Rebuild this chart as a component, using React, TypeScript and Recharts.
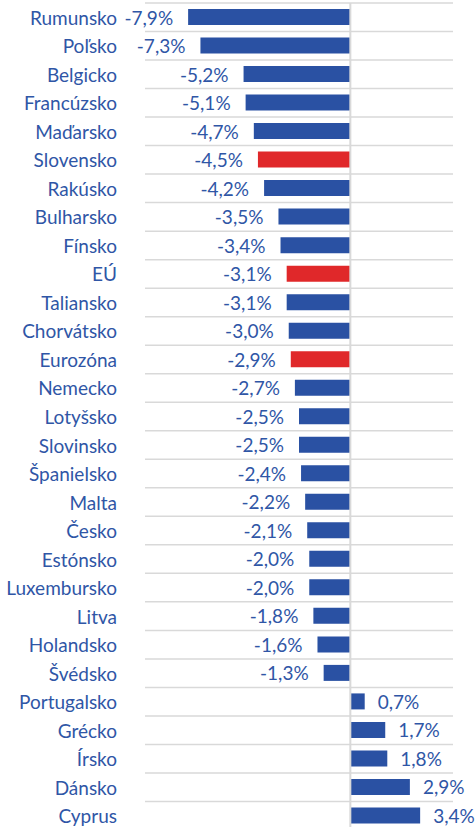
import { BarChart, Bar, XAxis, YAxis, CartesianGrid, ReferenceLine, Cell, LabelList } from 'recharts'

const countries = [
  'Rumunsko', 'Poľsko', 'Belgicko', 'Francúzsko', 'Maďarsko', 'Slovensko', 'Rakúsko',
  'Bulharsko', 'Fínsko', 'EÚ', 'Taliansko', 'Chorvátsko', 'Eurozóna', 'Nemecko',
  'Lotyšsko', 'Slovinsko', 'Španielsko', 'Malta', 'Česko', 'Estónsko', 'Luxembursko',
  'Litva', 'Holandsko', 'Švédsko', 'Portugalsko', 'Grécko', 'Írsko', 'Dánsko', 'Cyprus',
]

const deficits = [
  -7.9, -7.3, -5.2, -5.1, -4.7, -4.5, -4.2,
  -3.5, -3.4, -3.1, -3.1, -3.0, -2.9, -2.7,
  -2.5, -2.5, -2.4, -2.2, -2.1, -2.0, -2.0,
  -1.8, -1.6, -1.3, 0.7, 1.7, 1.8, 2.9, 3.4,
]

const highlighted = ['Slovensko', 'EÚ', 'Eurozóna']

const BLUE = '#2A51A3'
const RED = '#E0282A'
const TEXT = '#2F56A6'
const GRID = '#D9D9D9'
const FONT = 'Lato, "Open Sans", sans-serif'

const W = 475
const H = 830
const MARGIN = { top: 3, right: 22, bottom: 0, left: 0 }

const data = countries.map((name, i) => ({ name, value: deficits[i] }))

const fmt = (v: number) => v.toFixed(1).replace('.', ',') + '%'

function ValueLabel(props: any) {
  const { x, y, width, height, value } = props
  const left = Math.min(x, x + width)
  const right = Math.max(x, x + width)
  const neg = value < 0
  return (
    <text
      x={neg ? left - 15 : right + 13}
      y={y + height / 2}
      textAnchor={neg ? 'end' : 'start'}
      dominantBaseline="central"
      fill={TEXT}
      fontSize={19}
      fontFamily={FONT}
    >
      {fmt(value)}
    </text>
  )
}

function CountryTick(props: any) {
  const { x, y, payload } = props
  return (
    <text x={x} y={y} textAnchor="end" dominantBaseline="central" fill={TEXT} fontSize={19} fontFamily={FONT}>
      {payload.value}
    </text>
  )
}

// grid lines sit on the category boundaries, not on the centres
const rowBoundaries = () => {
  const plotH = H - MARGIN.top - MARGIN.bottom
  const step = plotH / countries.length
  return Array.from({ length: countries.length + 1 }, (_, i) => MARGIN.top + i * step)
}

export default function App() {
  return (
    <div style={{ position: 'absolute', top: 0, left: 0, width: 475, height: 827, overflow: 'hidden', background: '#fff' }}>
      <BarChart width={W} height={H} data={data} layout="vertical" margin={MARGIN}>
        <CartesianGrid
          vertical={false}
          stroke={GRID}
          strokeWidth={1.5}
          horizontalCoordinatesGenerator={rowBoundaries}
        />
        <XAxis type="number" domain={[-10, 5]} hide />
        <YAxis
          type="category"
          dataKey="name"
          width={145}
          axisLine={false}
          tickLine={false}
          tickSize={0}
          tickMargin={28}
          interval={0}
          tick={<CountryTick />}
        />
        <ReferenceLine x={0} stroke={GRID} strokeWidth={2} />
        <Bar dataKey="value" barSize={16} isAnimationActive={false}>
          {data.map((d) => (
            <Cell key={d.name} fill={highlighted.includes(d.name) ? RED : BLUE} />
          ))}
          <LabelList dataKey="value" content={<ValueLabel />} />
        </Bar>
      </BarChart>
    </div>
  )
}
